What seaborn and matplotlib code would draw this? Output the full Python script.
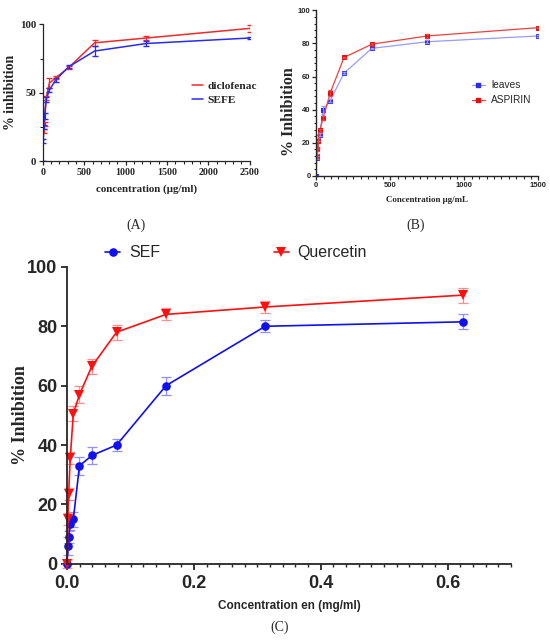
import numpy as np
import pandas as pd
import matplotlib
matplotlib.use("Agg")
import matplotlib.pyplot as plt
from matplotlib.ticker import MultipleLocator
from matplotlib.lines import Line2D
import seaborn as sns

# ---- panel A : diclofenac vs SEFE (ug/ml)
conc_a = [0, 4.88, 9.77, 19.5, 39, 78, 156, 312.5, 625, 1250, 2500]
sefe = [0, 14.5, 25, 33, 45, 52, 59.5, 69, 80.5, 86, 90]
sefe_err = [0, 1.5, 1.5, 2, 2, 1.5, 1.5, 1, 3.5, 1.5, 1]
conc_dic = [9.77, 19.5, 39, 78, 156, 312.5, 625, 1250, 2500]
diclofenac = [22, 27, 46, 57, 61, 68.5, 86.5, 90, 97]
dic_err = [1.5, 1.5, 1.5, 3.5, 1, 1, 2, 1.5, 2.5]

# ---- panel B : leaves vs ASPIRIN (ug/mL)
conc_b = [0, 2.93, 5.86, 11.7, 23.4, 46.9, 93.75, 187.5, 375, 750, 1500]
leaves = [0, 11, 16, 22, 25, 40, 45.5, 62, 77, 81, 84.5]
leaves_err = [0, 1, 1, 1, 1, 2.5, 1, 0.5, 0.5, 1, 0.5]
conc_asp = [2.93, 5.86, 11.7, 23.4, 46.9, 93.75, 187.5, 375, 750, 1500]
aspirin = [12, 16, 21, 27.5, 35, 50, 71.5, 79.5, 84.5, 89.5]
asp_err = [1, 1, 4, 1, 1, 2, 0.5, 0.5, 1, 0.5]

# ---- panel C : SEF vs Quercetin (mg/ml)
conc_c = [0, 0.0012, 0.0024, 0.0049, 0.0098, 0.0195, 0.039, 0.078, 0.156, 0.3125, 0.625]
sef = [0, 6, 9, 13.5, 15, 33, 36.5, 40, 60, 80, 81.5]
sef_err = [0, 3, 2, 2, 2.5, 3, 3, 2, 3, 2, 2.5]
quercetin = [0, 15, 23.5, 35.5, 50.5, 57, 66.5, 78, 84, 86.5, 90.5]
quer_err = [1.5, 2, 2, 2, 2.5, 3, 2.5, 2.5, 2, 2, 2.5]

sns.set_style("ticks")
serif = ["Liberation Serif", "DejaVu Serif"]
sans = ["Liberation Sans", "DejaVu Sans"]

fig = plt.figure(figsize=(5.5, 6.4), dpi=100)

RED = "#ee2b2b"
BLUE = "#2b2bee"

# ================= panel A
axA = fig.add_axes([0.078, 0.748, 0.376, 0.214])
dfA = pd.concat([
    pd.DataFrame({"x": conc_dic, "y": diclofenac, "s": "diclofenac"}),
    pd.DataFrame({"x": conc_a, "y": sefe, "s": "SEFE"}),
])
sns.lineplot(data=dfA, x="x", y="y", hue="s", palette={"diclofenac": RED, "SEFE": BLUE},
             errorbar=None, lw=1.1, ax=axA, legend=False)
axA.errorbar(conc_dic, diclofenac, yerr=dic_err, fmt="none", ecolor=RED, capsize=2, elinewidth=0.9)
axA.errorbar(conc_a, sefe, yerr=sefe_err, fmt="none", ecolor=BLUE, capsize=2, elinewidth=0.9)
axA.set_xlim(0, 2500)
axA.set_ylim(0, 100)
axA.xaxis.set_major_locator(MultipleLocator(500))
axA.xaxis.set_minor_locator(MultipleLocator(100))
axA.yaxis.set_major_locator(MultipleLocator(50))
axA.yaxis.set_minor_locator(MultipleLocator(25))
sns.despine(ax=axA)
for sp in axA.spines.values():
    sp.set_linewidth(0.9)
axA.tick_params(which="major", length=3, width=0.9, pad=2)
axA.tick_params(which="minor", length=2, width=0.8)
for lab in axA.get_xticklabels():
    lab.set_fontfamily(serif)
    lab.set_fontweight("bold")
    lab.set_fontsize(7.2)
for lab in axA.get_yticklabels():
    lab.set_fontfamily(serif)
    lab.set_fontweight("bold")
    lab.set_fontsize(7.8)
axA.set_xlabel("concentration (µg/ml)", family=serif, weight="bold", fontsize=7.8, labelpad=5)
axA.set_ylabel("% inhibition", family=serif, weight="bold", fontsize=10, labelpad=2)
hA = [Line2D([], [], color=RED, lw=1.1), Line2D([], [], color=BLUE, lw=1.1)]
fig.legend(hA, ["diclofenac", "SEFE"], loc="center left", bbox_to_anchor=(0.349, 0.855),
           frameon=False, borderpad=0, borderaxespad=0, handlelength=1.0, handletextpad=0.4,
           labelspacing=0.4, prop={"family": serif, "weight": "bold", "size": 8.2})
fig.text(0.247, 0.648, "(A)", family=serif, fontsize=10, ha="center", va="center")

# ================= panel B
axB = fig.add_axes([0.575, 0.725, 0.404, 0.259])
dfB = pd.concat([
    pd.DataFrame({"x": conc_b, "y": leaves, "s": "leaves"}),
    pd.DataFrame({"x": conc_asp, "y": aspirin, "s": "ASPIRIN"}),
])
sns.lineplot(data=dfB[dfB.s == "leaves"], x="x", y="y", color="#9a9aff", lw=0.9,
             marker="s", markersize=2.5, markerfacecolor=BLUE, markeredgecolor=BLUE,
             errorbar=None, ax=axB)
sns.lineplot(data=dfB[dfB.s == "ASPIRIN"], x="x", y="y", color="#ee4040", lw=0.9,
             marker="s", markersize=3, markerfacecolor="#e01010", markeredgecolor="#e01010",
             errorbar=None, ax=axB)
axB.errorbar(conc_b, leaves, yerr=leaves_err, fmt="none", ecolor="#9a9aff", capsize=1.5, elinewidth=0.7)
axB.errorbar(conc_asp, aspirin, yerr=asp_err, fmt="none", ecolor="#ee4040", capsize=1.5, elinewidth=0.7)
axB.set_xlim(0, 1500)
axB.set_ylim(0, 100)
axB.xaxis.set_major_locator(MultipleLocator(500))
axB.xaxis.set_minor_locator(MultipleLocator(50))
axB.yaxis.set_major_locator(MultipleLocator(20))
axB.yaxis.set_minor_locator(MultipleLocator(4))
sns.despine(ax=axB)
for sp in axB.spines.values():
    sp.set_linewidth(1.0)
axB.tick_params(which="major", length=3, width=0.9, pad=1)
axB.tick_params(which="minor", length=1.8, width=0.8)
for lab in axB.get_xticklabels() + axB.get_yticklabels():
    lab.set_fontfamily(sans)
    lab.set_fontweight("bold")
    lab.set_fontsize(5.5)
axB.set_xlabel("Concentration µg/mL", family=serif, weight="bold", fontsize=6.4, labelpad=5)
axB.set_ylabel("% Inhibition", family=serif, weight="bold", fontsize=11.5)
axB.yaxis.set_label_coords(-0.088, 0.386)
hB = [Line2D([], [], color="#9a9aff", lw=0.9, marker="s", markersize=2.2, mfc=BLUE, mec=BLUE),
      Line2D([], [], color="#ee4040", lw=0.9, marker="s", markersize=2.5, mfc="#e01010", mec="#e01010")]
fig.legend(hB, ["leaves", "ASPIRIN"], loc="center left", bbox_to_anchor=(0.858, 0.855),
           frameon=False, borderpad=0, borderaxespad=0, handlelength=1.25, handletextpad=0.65,
           labelspacing=0.5, prop={"family": sans, "size": 7.3})
fig.text(0.755, 0.648, "(B)", family=serif, fontsize=10, ha="center", va="center")

# ================= panel C
axC = fig.add_axes([0.122, 0.119, 0.807, 0.464])
dfC = pd.concat([
    pd.DataFrame({"x": conc_c, "y": sef, "s": "SEF"}),
    pd.DataFrame({"x": conc_c, "y": quercetin, "s": "Quercetin"}),
])
CRED = "#ff1010"
CBLUE = "#1010f0"
axC.errorbar(conc_c, sef, yerr=sef_err, fmt="none", ecolor="#8f8fff", capsize=3.5,
             elinewidth=0.9, capthick=0.9, clip_on=False)
axC.errorbar(conc_c, quercetin, yerr=quer_err, fmt="none", ecolor="#ff8f8f", capsize=3.5,
             elinewidth=0.9, capthick=0.9, clip_on=False)
sns.lineplot(data=dfC[dfC.s == "SEF"], x="x", y="y", color=CBLUE, lw=1.2, marker="o",
             markersize=6.2, markeredgewidth=0, errorbar=None, ax=axC, clip_on=False)
sns.lineplot(data=dfC[dfC.s == "Quercetin"], x="x", y="y", color=CRED, lw=1.2, marker="v",
             markersize=6.8, markeredgewidth=0, errorbar=None, ax=axC, clip_on=False)
axC.set_xlim(0, 0.7)
axC.set_ylim(0, 100)
axC.xaxis.set_major_locator(MultipleLocator(0.2))
axC.xaxis.set_minor_locator(MultipleLocator(0.02))
axC.yaxis.set_major_locator(MultipleLocator(20))
sns.despine(ax=axC)
for sp in axC.spines.values():
    sp.set_linewidth(1.3)
axC.tick_params(which="major", length=4, width=1.3, pad=3)
axC.tick_params(which="minor", length=2.5, width=1.0)
axC.set_xticks([0.0, 0.2, 0.4, 0.6])
axC.set_xticklabels(["0.0", "0.2", "0.4", "0.6"])
for lab in axC.get_xticklabels() + axC.get_yticklabels():
    lab.set_fontfamily(sans)
    lab.set_fontweight("bold")
    lab.set_fontsize(13)
axC.tick_params(axis="x", which="major", pad=4)
axC.set_xlabel("Concentration en (mg/ml)", family=sans, weight="bold", fontsize=8.5, labelpad=6)
axC.set_ylabel("% Inhibition", family=serif, weight="bold", fontsize=13, labelpad=-1)
hC = [Line2D([], [], color=CBLUE, lw=1.2, marker="o", markersize=6.2, mew=0),
      Line2D([], [], color=CRED, lw=1.2, marker="v", markersize=6.8, mew=0)]
fig.legend(hC, ["SEF", "Quercetin"], loc="center left", bbox_to_anchor=(0.191, 0.605),
           ncol=2, frameon=False, borderpad=0, borderaxespad=0, handlelength=0.95,
           handletextpad=0.55, columnspacing=7.1, prop={"family": sans, "size": 11.5})
fig.text(0.509, 0.02, "(C)", family=serif, fontsize=10, ha="center", va="center")

fig.savefig("out.png", dpi=100, facecolor="white")
